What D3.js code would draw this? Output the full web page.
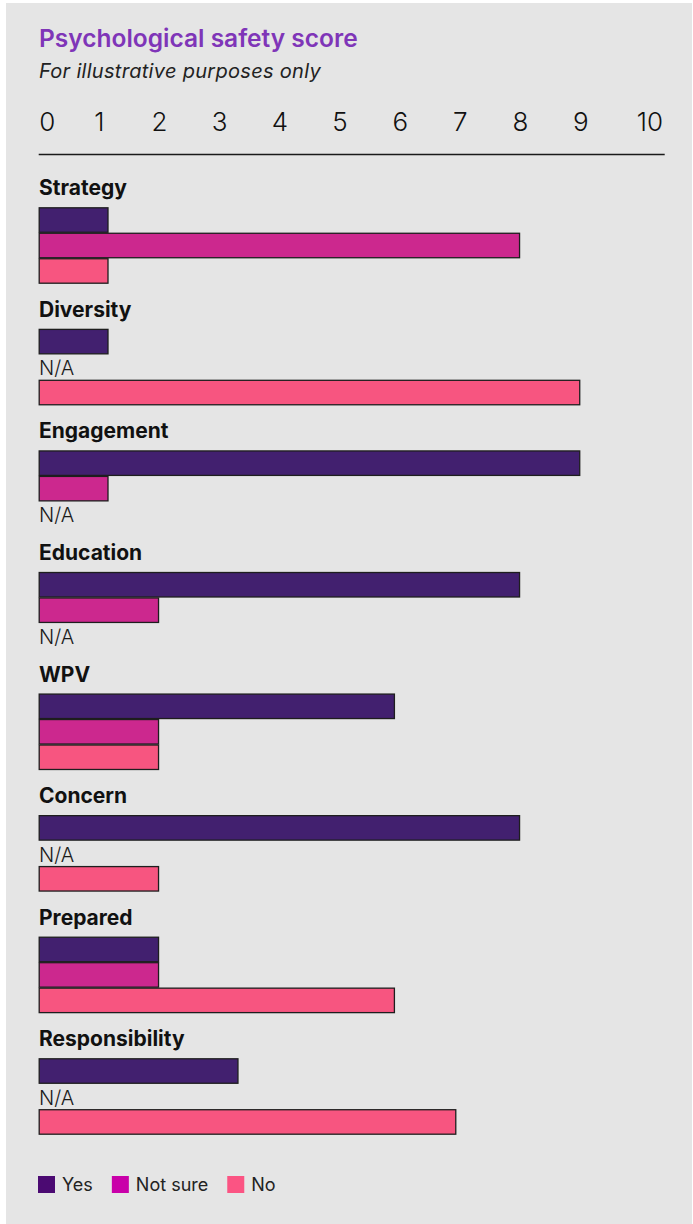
<!DOCTYPE html>
<html>
<head>
<meta charset="utf-8">
<script src="https://cdn.jsdelivr.net/npm/d3@7"></script>
<style>
  body { margin: 0; background: #fff; }
  svg { display: block; }
</style>
</head>
<body>
<svg></svg>
<script>
'use strict';

const svgWidth = 693;
const svgHeight = 1224;

// chart data (null = N/A)
const categories = ['Strategy', 'Diversity', 'Engagement', 'Education',
  'WPV', 'Concern', 'Prepared', 'Responsibility'];
const seriesNames = ['Yes', 'Not sure', 'No'];
const yesValues = [1.16, 1.16, 9, 8, 5.92, 8, 2, 3.32];
const notSureValues = [8, null, 1.16, 2, 2, null, 2, null];
const noValues = [1.16, 9, null, null, 2, 2, 5.92, 6.94];
const tickValues = [0, 1, 2, 3, 4, 5, 6, 7, 8, 9, 10];

const barColors = ['#42206f', '#cc288e', '#f75580'];
const legendColors = ['#4b0a72', '#c900a9', '#fb5483'];

const svg = d3.select('svg')
  .attr('width', svgWidth)
  .attr('height', svgHeight)
  .attr('font-family', 'Inter, Roboto, sans-serif');

// grey panel
svg.append('rect')
  .attr('x', 6)
  .attr('y', 3)
  .attr('width', 686)
  .attr('height', svgHeight - 3)
  .attr('fill', '#e5e5e5');

svg.append('text')
  .attr('x', 39)
  .attr('y', 47)
  .attr('font-size', 24.5)
  .attr('font-weight', 600)
  .attr('fill', '#7f35b8')
  .text('Psychological safety score');

svg.append('text')
  .attr('x', 39)
  .attr('y', 78)
  .attr('font-size', 20)
  .attr('letter-spacing', 0.3)
  .attr('font-style', 'italic')
  .attr('fill', '#222')
  .text('For illustrative purposes only');

const x = d3.scaleLinear()
  .domain([0, 10])
  .range([38.7, 640.4]);

// tick labels on top
let axisG = svg.append('g')
  .attr('transform', 'translate(0 131)')
  .call(d3.axisTop(x).tickValues(tickValues).tickSize(0).tickPadding(0));

axisG.select('.domain').remove();
axisG.selectAll('text')
  .attr('font-family', 'Inter, Roboto, sans-serif')
  .attr('font-size', 26)
  .attr('font-weight', 300)
  .attr('fill', '#111')
  .attr('y', 0)
  .attr('dy', 0)
  .attr('text-anchor', d => d === 0 ? 'start' : 'middle')
  .attr('dx', d => d === 10 ? 9 : 0);

// rule under the ticks
svg.append('line')
  .attr('x1', x(0))
  .attr('x2', 664.7)
  .attr('y1', 154.5)
  .attr('y2', 154.5)
  .attr('stroke', '#1a1a1a')
  .attr('stroke-width', 1.5);

const y = d3.scaleBand()
  .domain(categories)
  .range([207.3, 207.3 + categories.length * 121.57])
  .padding(0);

const ySub = d3.scaleBand()
  .domain(seriesNames)
  .range([0, 76.4]);

const rows = categories.map((c, i) => ({
  category: c,
  values: [yesValues[i], notSureValues[i], noValues[i]].map((v, j) => ({
    series: seriesNames[j], value: v, color: barColors[j]
  }))
}));

let groups = svg.selectAll('g.group')
  .data(rows)
  .join('g')
  .attr('class', 'group')
  .attr('transform', d => `translate(0 ${y(d.category)})`);

groups.append('text')
  .attr('x', 39)
  .attr('y', -12)
  .attr('font-size', 21)
  .attr('font-weight', 700)
  .attr('fill', '#111')
  .text(d => d.category);

groups.selectAll('rect')
  .data(d => d.values.filter(v => v.value !== null))
  .join('rect')
  .attr('x', x(0) + 0.5)
  .attr('y', d => ySub(d.series) + 0.5)
  .attr('width', d => x(d.value) - x(0) - 1)
  .attr('height', ySub.bandwidth() - 1)
  .attr('fill', d => d.color)
  .attr('stroke', '#1e1e1e')
  .attr('stroke-width', 1.3);

groups.selectAll('text.na')
  .data(d => d.values.filter(v => v.value === null))
  .join('text')
  .attr('class', 'na')
  .attr('x', 39)
  .attr('y', d => ySub(d.series) + 21)
  .attr('font-size', 20)
  .attr('font-weight', 300)
  .attr('fill', '#1a1a1a')
  .text('N/A');

// legend
let legendG = svg.append('g')
  .attr('transform', 'translate(38 1176)');

let lx = 0;
seriesNames.forEach((name, i) => {
  legendG.append('rect')
    .attr('x', lx)
    .attr('y', 0)
    .attr('width', 17)
    .attr('height', 17)
    .attr('fill', legendColors[i]);
  let t = legendG.append('text')
    .attr('x', lx + 24)
    .attr('y', 15)
    .attr('font-size', 18)
    .attr('fill', '#222')
    .text(name);
  lx += 24 + t.node().getComputedTextLength() + 19;
});
</script>
</body>
</html>
